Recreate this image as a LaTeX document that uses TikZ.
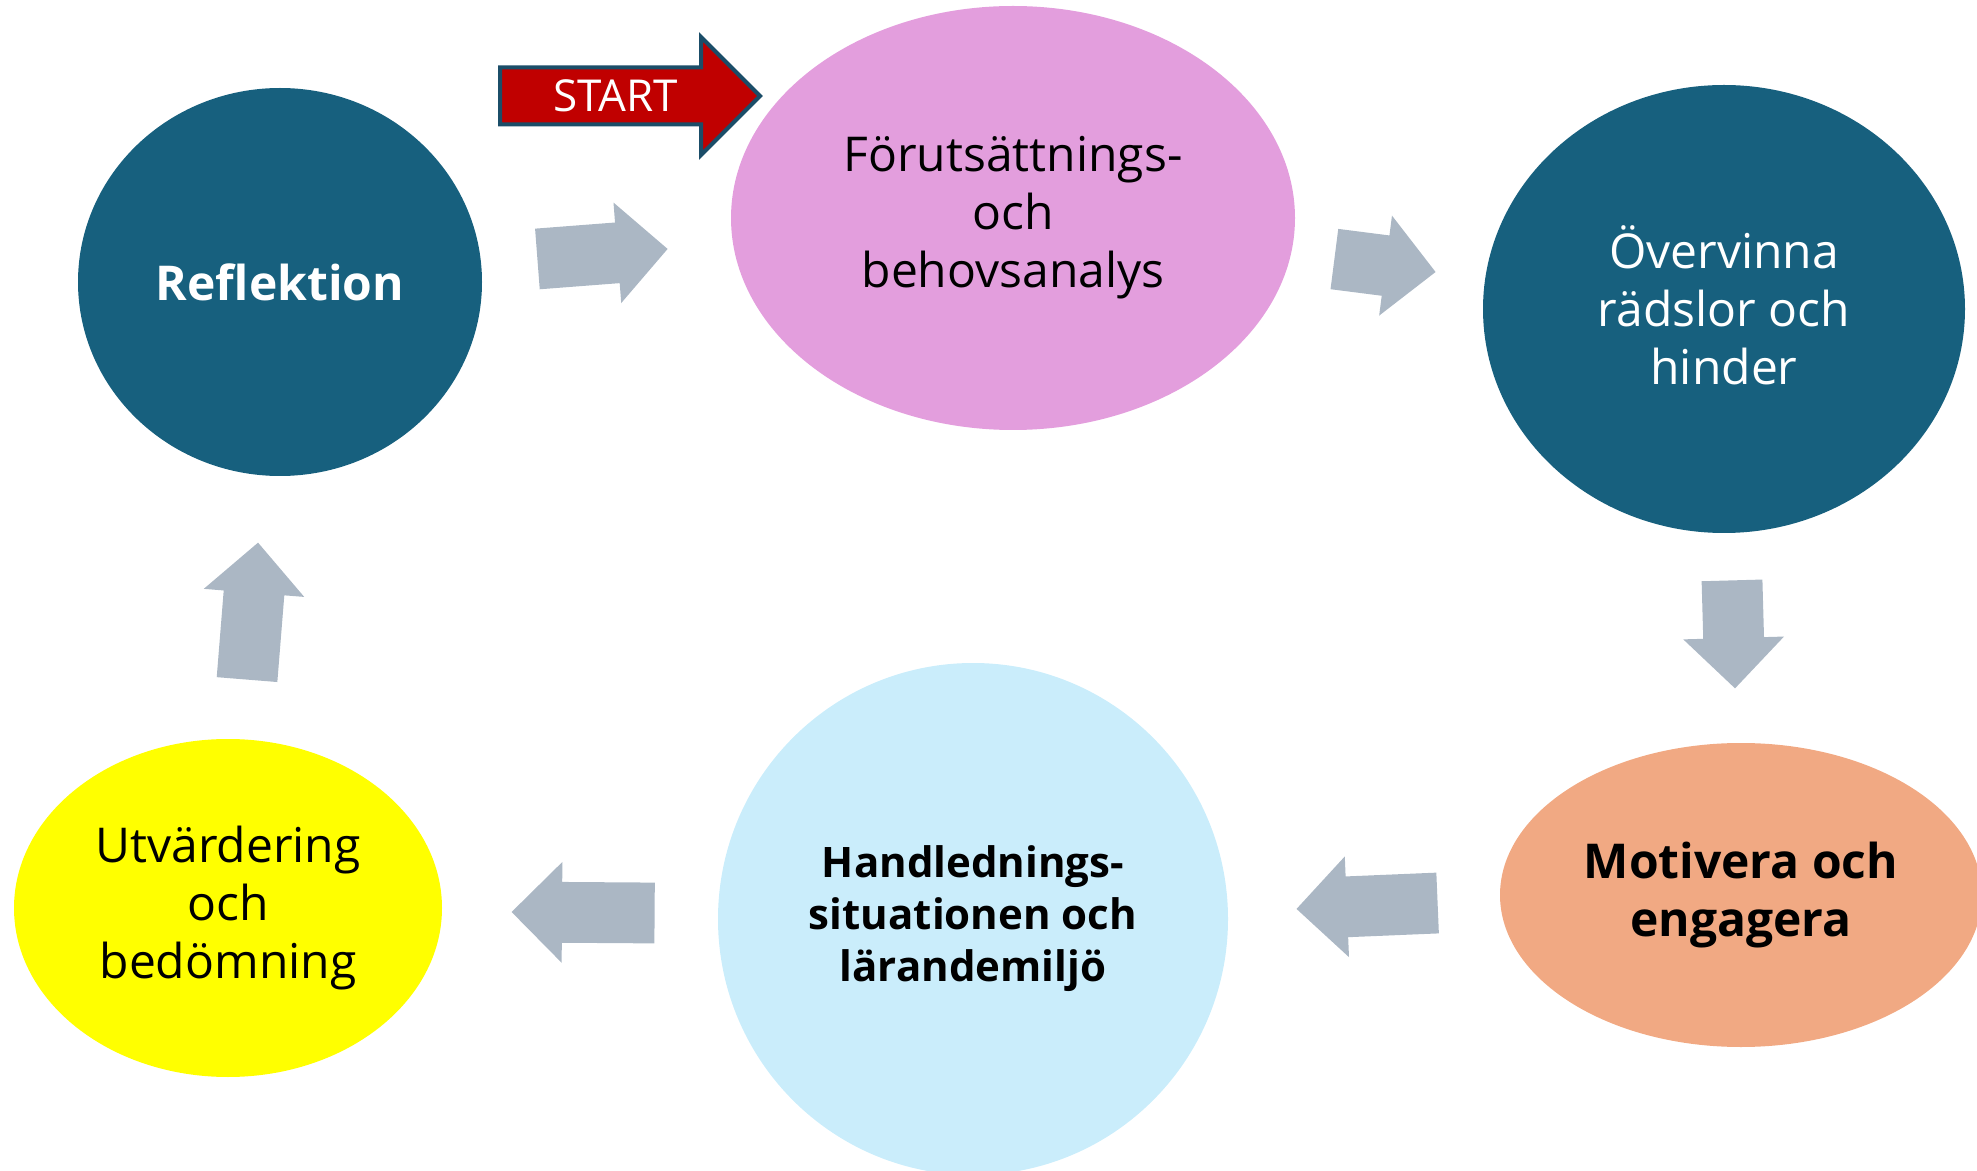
\documentclass[tikz,border=0pt]{standalone}
\usepackage{fontspec}
\setmainfont{Open Sans}
\usepackage{tikz}
\usetikzlibrary{shapes.geometric, shapes.arrows}

\definecolor{tealblue}{HTML}{17607E}
\definecolor{rosa}{HTML}{E39EDD}
\definecolor{ljusbla}{HTML}{CAEDFB}
\definecolor{lax}{HTML}{F1A983}
\definecolor{gul}{HTML}{FFFF00}
\definecolor{pilgra}{HTML}{ABB7C4}
\definecolor{startrod}{HTML}{C00000}
\definecolor{startkant}{HTML}{1B4D68}

\tikzstyle{phase} = [ellipse, inner sep=0pt, align=center, text=black, font=\fontsize{24}{29}\selectfont]
\tikzstyle{darkphase} = [phase, fill=tealblue, text=white]
\tikzstyle{blockarrow} = [single arrow, fill=pilgra, inner xsep=0pt, inner ysep=15pt, single arrow head extend=10pt, minimum width=0pt, anchor=tail]
\tikzstyle{startarrow} = [single arrow, fill=startrod, draw=startkant, line width=2pt, text=white, font=\fontsize{22}{26}\selectfont, text height=15.5pt, text depth=0pt, inner xsep=0pt, inner ysep=5.5pt, single arrow head extend=15.25pt, minimum width=0pt, minimum height=130pt, anchor=tail]

\begin{document}
\begin{tikzpicture}[x=0.5pt, y=-0.5pt]
    \useasboundingbox (0,0) rectangle (1977,1171);
    %faserna i cykeln
    \node (p_reflektion) [darkphase, minimum width=202pt, minimum height=194pt, font=\fontsize{24}{29}\selectfont\bfseries] at (280,282) {Reflektion};
    \node (p_analys) [phase, fill=rosa, minimum width=282pt, minimum height=212pt] at (1013,218) {Förutsättnings-\\och\\behovsanalys};
    \node (p_hinder) [darkphase, minimum width=241pt, minimum height=224pt] at (1724,309) {\vphantom{h}\smash{Ö}vervinna\\rädslor och\\hinder};
    \node (p_motivera) [phase, fill=lax, minimum width=241pt, minimum height=152pt, font=\fontsize{24}{29}\selectfont\bfseries] at (1741,895) {Motivera och\\engagera};
    \node (p_handledning) [phase, fill=ljusbla, minimum width=255pt, minimum height=256pt, font=\fontsize{21}{26}\selectfont\bfseries] at (973,919) {Handlednings-\\situationen och\\lärandemiljö};
    \node (p_utvardering) [phase, fill=gul, minimum width=214pt, minimum height=169pt] at (228,908) {Utvärdering\\och\\bedömning};

    %pilar mellan faserna
    \node (a_start) [startarrow] at (498,96) {START};
    \node (a_1) [blockarrow, rotate=4.4, minimum height=65.3pt] at (537,259) {};
    \node (a_2) [blockarrow, rotate=-7.3, minimum height=51pt] at (1334,259) {};
    \node (a_3) [blockarrow, rotate=-88.4, minimum height=54pt] at (1732,580) {};
    \node (a_4) [blockarrow, rotate=-177.6, minimum height=70.6pt] at (1438,903) {};
    \node (a_5) [blockarrow, rotate=179.6, minimum height=71.5pt] at (655,913) {};
    \node (a_6) [blockarrow, rotate=85.4, minimum height=68.7pt] at (247,680) {};
\end{tikzpicture}
\end{document}
